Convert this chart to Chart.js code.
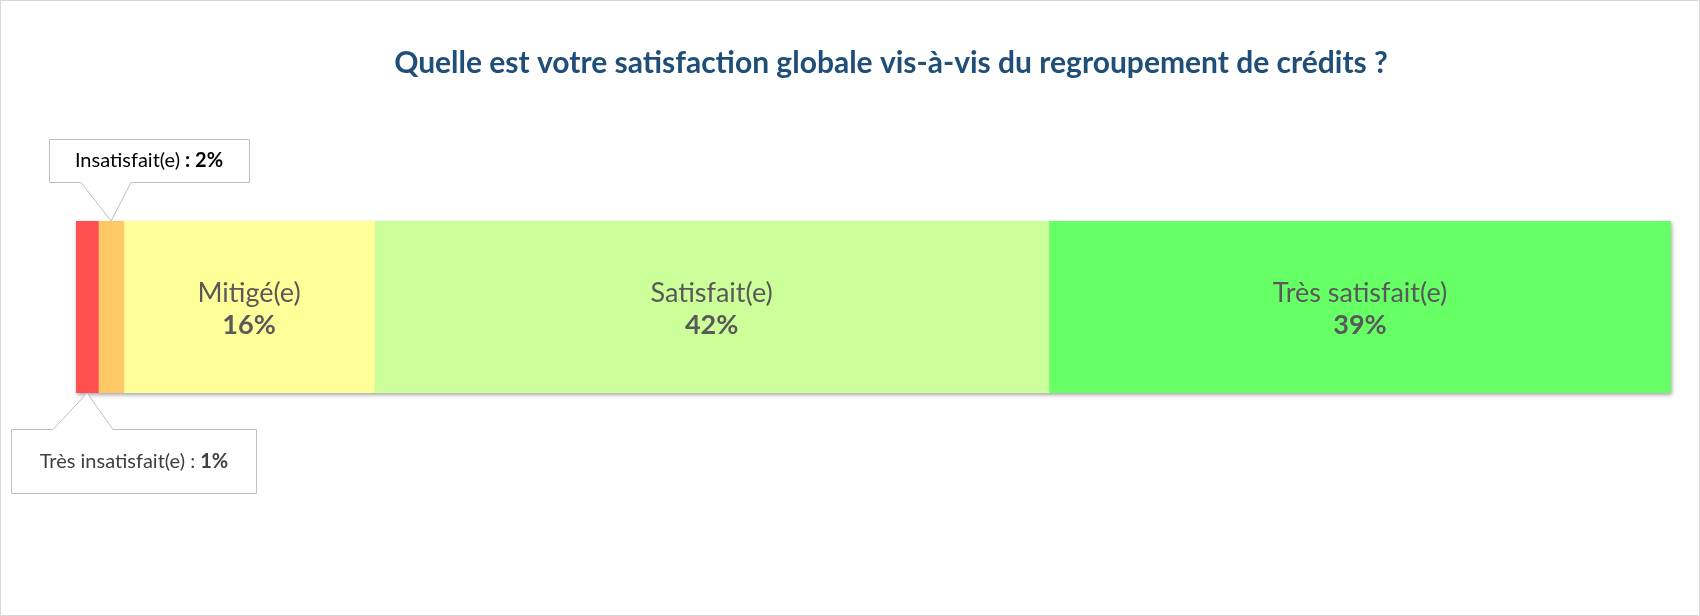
<!DOCTYPE html>
<html><head><meta charset="utf-8">
<script src="https://cdn.jsdelivr.net/npm/chart.js@4"></script>
<style>html,body{margin:0;padding:0;background:#fff}#w{width:1700px;height:616px;position:relative;box-sizing:border-box;border:1px solid #d9d9d9}</style>
</head><body><div id="w"><canvas id="c"></canvas></div>
<script>
const categories = ["Très insatisfait(e)", "Insatisfait(e)", "Mitigé(e)", "Satisfait(e)", "Très satisfait(e)"];
const values = [1.4, 1.6, 15.7, 42.3, 39.0];
const shownPct = ["1%", "2%", "16%", "42%", "39%"];
const colors = ["#FF5050", "#FFC766", "#FFFF99", "#CCFF99", "#66FF66"];
const titleText = "Quelle est votre satisfaction globale vis-à-vis du regroupement de crédits ?";
const FONT = "Lato, 'Open Sans', sans-serif";

const deco = {
  id: 'deco',
  beforeDatasetsDraw(chart){
    const ctx = chart.ctx, a = chart.chartArea;
    ctx.save();
    ctx.shadowColor = 'rgba(0,0,0,0.35)'; ctx.shadowBlur = 4; ctx.shadowOffsetX = 1; ctx.shadowOffsetY = 2;
    ctx.fillStyle = '#fff'; ctx.fillRect(a.left, a.top, a.right - a.left, a.bottom - a.top);
    ctx.restore();
  },
  afterDatasetsDraw(chart){
    const ctx = chart.ctx, a = chart.chartArea;
    ctx.save();
    ctx.fillStyle = '#1F4E79'; ctx.font = "bold 30px " + FONT; ctx.textAlign = 'center'; ctx.textBaseline = 'middle';
    ctx.fillText(titleText, 890, 62);
    for (let i = 2; i < values.length; i++) {
      const bar = chart.getDatasetMeta(i).data[0];
      const cx = (bar.x + bar.base) / 2;
      ctx.fillStyle = '#595959';
      ctx.font = "27px " + FONT; ctx.fillText(categories[i], cx, a.top + 72);
      ctx.font = "bold 27px " + FONT; ctx.fillText(shownPct[i], cx, a.top + 104);
    }
    const b0 = chart.getDatasetMeta(0).data[0], b1 = chart.getDatasetMeta(1).data[0];
    const c0 = (b0.x + b0.base) / 2, c1 = (b1.x + b1.base) / 2;
    ctx.strokeStyle = '#bfbfbf'; ctx.lineWidth = 1; ctx.fillStyle = '#fff';
    ctx.beginPath();
    ctx.moveTo(48.5,138.5); ctx.lineTo(248.5,138.5); ctx.lineTo(248.5,181.5); ctx.lineTo(130,181.5);
    ctx.lineTo(c1, a.top); ctx.lineTo(80,181.5); ctx.lineTo(48.5,181.5); ctx.closePath();
    ctx.fill(); ctx.stroke();
    ctx.beginPath();
    ctx.moveTo(10.5,428.5); ctx.lineTo(52,428.5); ctx.lineTo(c0, a.bottom); ctx.lineTo(112,428.5);
    ctx.lineTo(255.5,428.5); ctx.lineTo(255.5,492.5); ctx.lineTo(10.5,492.5); ctx.closePath();
    ctx.fill(); ctx.stroke();
    ctx.textAlign = 'left';
    function mixed(x, y, a1, b1, col){
      ctx.font = "20px " + FONT; const w1 = ctx.measureText(a1).width;
      ctx.font = "bold 20px " + FONT; const w2 = ctx.measureText(b1).width;
      let sx = x - (w1 + w2) / 2;
      ctx.fillStyle = col;
      ctx.font = "20px " + FONT; ctx.fillText(a1, sx, y);
      ctx.font = "bold 20px " + FONT; ctx.fillText(b1, sx + w1, y);
    }
    mixed(148, 160, categories[1] + " ", ": " + shownPct[1], '#000');
    mixed(133, 461, categories[0] + " : ", shownPct[0], '#404040');
    ctx.restore();
  }
};

new Chart(document.getElementById('c'), {
  type: 'bar',
  data: {
    labels: [''],
    datasets: categories.map((c, i) => ({ label: c, data: [values[i]], backgroundColor: colors[i], borderWidth: 0, barPercentage: 1, categoryPercentage: 1 }))
  },
  options: {
    indexAxis: 'y', responsive: true, maintainAspectRatio: false, animation: false,
    layout: { padding: { left: 75, right: 28, top: 220, bottom: 222 } },
    plugins: { legend: { display: false }, tooltip: { enabled: false }, title: { display: false } },
    scales: {
      x: { stacked: true, min: 0, max: 100, display: false },
      y: { stacked: true, display: false }
    }
  },
  plugins: [deco]
});
</script></body></html>
